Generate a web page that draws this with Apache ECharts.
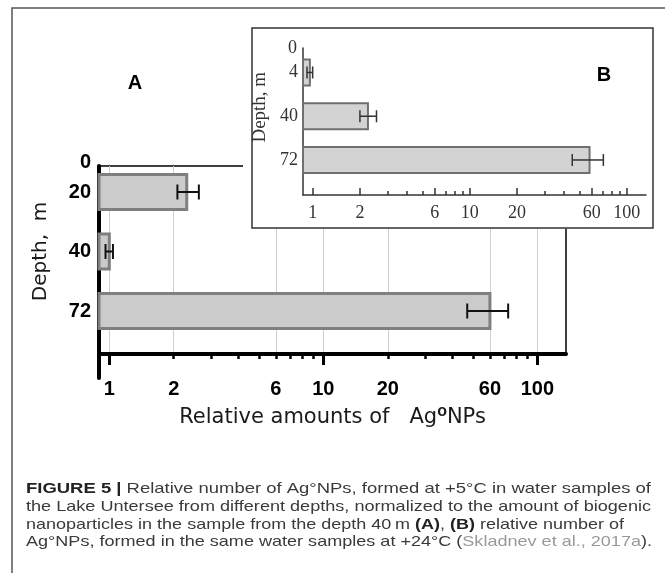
<!DOCTYPE html>
<html>
<head>
<meta charset="utf-8">
<title>Relative amounts of Ag NPs by depth</title>
<script src="https://cdn.jsdelivr.net/npm/echarts@6.0.0/dist/echarts.min.js"></script>
<style>
  html, body { margin: 0; padding: 0; background: #fff; }
  #chart { width: 665px; height: 573px; }
</style>
</head>
<body>
<div id="chart"></div>
<script>
// panel A: +5 C, normalised to the 40 m sample
const depthsA = ['20', '40', '72'];
const valuesA = [2.3, 1.0, 60];
const errLowA = [2.08, 0.96, 47];
const errHighA = [2.62, 1.04, 73];

// panel B (inset): +24 C
const depthsB = ['4', '40', '72'];
const valuesB = [0.96, 2.25, 58];
const errLowB = [0.92, 2.0, 45];
const errHighB = [1.0, 2.55, 71];

// log axis ticks
const tickLabels = [1, 2, 6, 10, 20, 60, 100];
const decadeTicks = [1, 10, 100];
const minorTicksA = [2, 3, 4, 5, 6, 7, 8, 9, 20, 30, 40, 50, 60, 70, 80, 90];
const minorTicksB = [3, 4, 5, 7, 8, 9, 30, 40, 50, 70, 80, 90];
const topDepth = [0];

const SANS = 'Liberation Sans';
const SERIF = 'Liberation Serif';

// caption lines, each a list of [style, text]
const captionLines = [
  [['b', 'FIGURE 5 |'], ['n', ' Relative number of Ag°NPs, formed at +5°C in water samples of']],
  [['n', 'the Lake Untersee from different depths, normalized to the amount of biogenic']],
  [['n', 'nanoparticles in the sample from the depth 40\u2009m '], ['b', '(A)'], ['n', ', '], ['b', '(B)'], ['n', ' relative number of']],
  [['n', 'Ag°NPs, formed in the same water samples at +24°C ('], ['g', 'Skladnev et al., 2017a'], ['n', ').']]
];
const captionY = [489, 507, 524.5, 542];
const captionW = [625, 625, 598, 626];

let myChart = echarts.init(document.getElementById('chart'));

function barItem(h, fill, stroke, lw) {
  return function (params, api) {
    let end = api.coord([api.value(0), api.value(1)]);
    let x0 = params.coordSys.x;
    return {
      type: 'rect',
      shape: { x: x0, y: end[1] - h / 2, width: end[0] - x0, height: h },
      style: { fill: fill, stroke: stroke, lineWidth: lw }
    };
  };
}

function errItem(cap, color, lw) {
  return function (params, api) {
    let a = api.coord([api.value(0), api.value(2)]);
    let b = api.coord([api.value(1), api.value(2)]);
    let y = a[1];
    let st = { stroke: color, lineWidth: lw };
    return {
      type: 'group',
      children: [
        { type: 'line', shape: { x1: a[0], y1: y, x2: b[0], y2: y }, style: st },
        { type: 'line', shape: { x1: a[0], y1: y - cap / 2, x2: a[0], y2: y + cap / 2 }, style: st },
        { type: 'line', shape: { x1: b[0], y1: y - cap / 2, x2: b[0], y2: y + cap / 2 }, style: st }
      ]
    };
  };
}

// caption text: each line is stretched to the width it has in the figure
const capFonts = {
  n: { fontFamily: SANS, fontSize: 15, fontWeight: 'normal', fill: '#3a3a3a' },
  b: { fontFamily: SANS, fontSize: 15, fontWeight: 'bold', fill: '#222' },
  g: { fontFamily: SANS, fontSize: 15, fontWeight: 'normal', fill: '#999' }
};
let ctx = document.createElement('canvas').getContext('2d');
function lineWidth(line) {
  return line.reduce((sum, seg) => {
    let f = capFonts[seg[0]];
    ctx.font = f.fontWeight + ' ' + f.fontSize + 'px "' + f.fontFamily + '"';
    return sum + ctx.measureText(seg[1]).width;
  }, 0);
}

let captionEls = captionLines.map((line, i) => ({
  type: 'text',
  x: 26,
  y: captionY[i],
  scaleX: captionW[i] / lineWidth(line),
  z: 30,
  style: {
    text: line.map(seg => '{' + seg[0] + '|' + seg[1] + '}').join(''),
    rich: capFonts,
    verticalAlign: 'middle',
    textAlign: 'left'
  }
}));

function tickOnlyAxis(grid, min, max, ticks, len, color, width, inside, z) {
  return {
    type: 'log', logBase: 10, gridIndex: grid, min: min, max: max, position: 'bottom', z: z,
    axisLine: { show: false, onZero: false },
    axisLabel: { show: false },
    splitLine: { show: false },
    axisTick: { show: true, inside: inside, customValues: ticks, length: len, lineStyle: { color: color, width: width } }
  };
}

myChart.setOption({
  animation: false,
  backgroundColor: '#fff',
  grid: [
    // A frame (gridlines, x axis, top/right border)
    { left: 99, top: 166, width: 467, height: 188, show: true, borderColor: '#000', borderWidth: 1.5, backgroundColor: 'transparent', outerBoundsMode: 'none' },
    // A bars
    { left: 99, top: 162.25, width: 467, height: 178.5, outerBoundsMode: 'none' },
    // A thick depth axis (runs past the x axis)
    { left: 99, top: 166, width: 467, height: 212, outerBoundsMode: 'none' },
    // B frame
    { left: 303, top: 48, width: 343, height: 147, outerBoundsMode: 'none' },
    // B bars
    { left: 303, top: 50.6, width: 343, height: 131.25, outerBoundsMode: 'none' }
  ],
  xAxis: [
    {
      type: 'log', logBase: 10, gridIndex: 0, min: 0.895, max: 136, position: 'bottom',
      axisLine: { show: true, onZero: false, lineStyle: { color: '#000', width: 4 } },
      axisTick: { show: false, customValues: tickLabels },
      axisLabel: {
        customValues: tickLabels, margin: 25,
        fontFamily: SANS, fontSize: 20, fontWeight: 'bold', color: '#000'
      },
      splitLine: { show: true, lineStyle: { color: '#cfcfcf', width: 1 } },
      name: 'Relative amounts of   Ag{s|o}NPs',
      nameLocation: 'middle', nameGap: 50,
      nameTextStyle: {
        fontFamily: 'DejaVu Sans', fontSize: 21, color: '#1a1a1a', lineHeight: 28,
        rich: { s: { fontFamily: SANS, fontSize: 16, fontWeight: 'bold', color: '#1a1a1a', lineHeight: 8, verticalAlign: 'top' } }
      }
    },
    tickOnlyAxis(0, 0.895, 136, decadeTicks, 11, '#000', 3, false, 0),
    tickOnlyAxis(0, 0.895, 136, minorTicksA, 5, '#000', 2.5, false, 0),
    { type: 'log', logBase: 10, gridIndex: 1, min: 0.895, max: 136, show: false },
    { type: 'log', logBase: 10, gridIndex: 2, min: 0.895, max: 136, show: false },
    {
      type: 'log', logBase: 10, gridIndex: 3, min: 0.868, max: 132.7, position: 'bottom', z: 11,
      axisLine: { show: true, onZero: false, lineStyle: { color: '#333', width: 1.5 } },
      axisTick: { show: true, inside: true, customValues: tickLabels, length: 7, lineStyle: { color: '#333', width: 1.5 } },
      axisLabel: { customValues: tickLabels, margin: 9, fontFamily: SERIF, fontSize: 18, color: '#333' },
      splitLine: { show: false }
    },
    tickOnlyAxis(3, 0.868, 132.7, minorTicksB, 4, '#333', 1.5, true, 11),
    { type: 'log', logBase: 10, gridIndex: 4, min: 0.868, max: 132.7, show: false }
  ],
  yAxis: [
    { type: 'value', gridIndex: 0, min: 0, max: 1, show: false },
    {
      type: 'category', gridIndex: 1, data: depthsA, inverse: true,
      axisLine: { show: false }, axisTick: { show: false },
      axisLabel: { margin: 8, fontFamily: SANS, fontSize: 20, fontWeight: 'bold', color: '#000' },
      name: 'Depth,  m', nameLocation: 'middle', nameRotate: 90, nameGap: 48,
      nameTextStyle: { fontFamily: 'DejaVu Sans', fontSize: 20, color: '#1a1a1a' }
    },
    {
      type: 'value', gridIndex: 2, min: 0, max: 1, inverse: true,
      axisLine: { show: true, onZero: false, lineStyle: { color: '#000', width: 4 } },
      axisTick: { show: false },
      splitLine: { show: false },
      axisLabel: {
        customValues: topDepth, margin: 8, verticalAlign: 'bottom', lineHeight: 8,
        fontFamily: SANS, fontSize: 20, fontWeight: 'bold', color: '#000'
      }
    },
    {
      type: 'value', gridIndex: 3, min: 0, max: 1, inverse: true, z: 11,
      axisLine: { show: true, onZero: false, lineStyle: { color: '#333', width: 1.5 } },
      axisTick: { show: false },
      splitLine: { show: false },
      axisLabel: { customValues: topDepth, margin: 6, fontFamily: SERIF, fontSize: 18, color: '#333' }
    },
    {
      type: 'category', gridIndex: 4, data: depthsB, inverse: true, z: 11,
      axisLine: { show: false }, axisTick: { show: false },
      axisLabel: { margin: 5, fontFamily: SERIF, fontSize: 18, color: '#333' },
      name: 'Depth, m', nameLocation: 'middle', nameRotate: 90, nameGap: 29,
      nameTextStyle: { fontFamily: SERIF, fontSize: 19, color: '#333', padding: [0, 0, 0, 18] }
    }
  ],
  series: [
    {
      name: 'A +5C', type: 'custom', xAxisIndex: 3, yAxisIndex: 1, z: 2,
      renderItem: barItem(35, '#cbcbcb', '#7f7f7f', 3),
      encode: { x: 0, y: 1 },
      data: valuesA.map((v, i) => [v, i])
    },
    {
      name: 'A err', type: 'custom', xAxisIndex: 3, yAxisIndex: 1, z: 3,
      renderItem: errItem(15, '#111', 2),
      encode: { x: [0, 1], y: 2 },
      data: errLowA.map((lo, i) => [lo, errHighA[i], i])
    },
    {
      name: 'B +24C', type: 'custom', xAxisIndex: 7, yAxisIndex: 4, z: 12,
      renderItem: barItem(26, '#d3d3d3', '#707070', 2),
      encode: { x: 0, y: 1 },
      data: valuesB.map((v, i) => [v, i])
    },
    {
      name: 'B err', type: 'custom', xAxisIndex: 7, yAxisIndex: 4, z: 13,
      renderItem: errItem(12, '#333', 1.5),
      encode: { x: [0, 1], y: 2 },
      data: errLowB.map((lo, i) => [lo, errHighB[i], i])
    }
  ],
  graphic: {
    elements: [
      // outer figure frame
      { type: 'polyline', z: 30, shape: { points: [[12, 573], [12, 8], [665, 8]] }, style: { stroke: '#555', lineWidth: 1.5, fill: null } },
      // inset background and box
      { type: 'rect', z: 10, shape: { x: 243, y: 12, width: 422, height: 216.5 }, style: { fill: '#fff' } },
      { type: 'rect', z: 10, shape: { x: 252, y: 28, width: 401, height: 200 }, style: { fill: '#fff', stroke: '#333', lineWidth: 1.5 } },
      // panel letters
      { type: 'text', z: 30, x: 135, y: 83, style: { text: 'A', fontFamily: SANS, fontSize: 20, fontWeight: 'bold', fill: '#000', textAlign: 'center', verticalAlign: 'middle' } },
      { type: 'text', z: 30, x: 604, y: 75, style: { text: 'B', fontFamily: SANS, fontSize: 20, fontWeight: 'bold', fill: '#000', textAlign: 'center', verticalAlign: 'middle' } }
    ].concat(captionEls)
  }
});
</script>
</body>
</html>
